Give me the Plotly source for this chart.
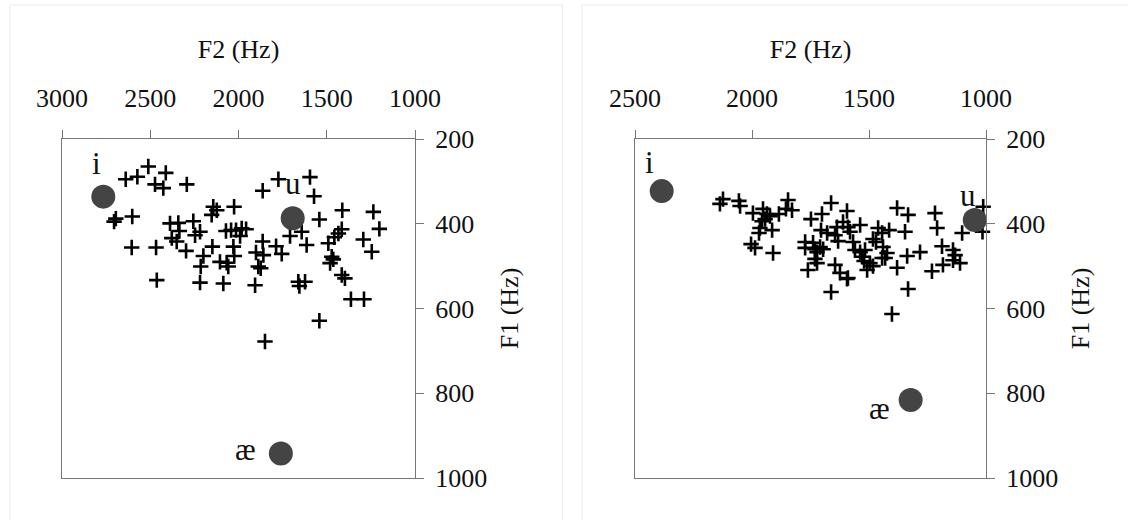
import plotly.graph_objects as go

# ---------------- data ----------------
left_f2_ticks = [3000, 2500, 2000, 1500, 1000]
right_f2_ticks = [2500, 2000, 1500, 1000]
f1_ticks = [200, 400, 600, 800, 1000]

vowel_labels = ["i", "u", "æ"]

left_vowel_f2 = [2766, 1693, 1760]
left_vowel_f1 = [336, 387, 942]

right_vowel_f2 = [2386, 1048, 1322]
right_vowel_f1 = [323, 391, 816]

left_plus_f2 = [2639, 2573, 2511, 2412, 2473, 2426, 2293,
                2705, 2695, 2602, 2605, 2467, 2463,
                2388, 2341, 2335, 2378, 2350, 2297,
                2256, 2246, 2218, 2143, 2123, 2152, 2025,
                2148, 2199, 2214, 2218, 2086, 2105, 2067, 2058,
                2029, 2024, 2071, 2042, 2014, 1982, 1957, 1991,
                1863, 1774, 1595, 1572,
                1863, 1901, 1859, 1888, 1874, 1906,
                1787, 1755, 1708, 1642, 1614, 1661, 1623, 1655,
                1542, 1412, 1415, 1434, 1457, 1491, 1472, 1463, 1481,
                1415, 1397, 1236, 1202, 1293, 1245, 1363, 1289, 1542, 1850]
left_plus_f1 = [295, 289, 265, 280, 307, 316, 307,
                395, 388, 383, 456, 456, 533,
                399, 398, 417, 434, 442, 464,
                394, 427, 419, 360, 368, 379, 360,
                454, 476, 501, 539, 541, 490, 492, 501,
                454, 476, 417, 415, 415, 411, 413, 429,
                322, 295, 290, 335,
                442, 468, 474, 501, 505, 545,
                453, 471, 429, 419, 450, 537, 537, 547,
                390, 368, 413, 423, 432, 446, 478, 484, 493,
                521, 529, 372, 412, 437, 466, 578, 578, 629, 678]

right_plus_f2 = [2137, 2124, 2056, 2051, 1996, 1953, 1936, 1923, 1957, 1944,
                 1966, 1970, 1914, 1885, 1855, 1846, 1829, 2004, 1987, 1910,
                 1748, 1701, 1662, 1705, 1679, 1645, 1632, 1637, 1611, 1594,
                 1773, 1773, 1739, 1731, 1722, 1731, 1722, 1709, 1696, 1761,
                 1645, 1624, 1594, 1662, 1590, 1581, 1538,
                 1380, 1333, 1218, 1209, 1346, 1414, 1461, 1444, 1483, 1470,
                 1568, 1560, 1538, 1517, 1530, 1521, 1440, 1423, 1431, 1444,
                 1496, 1483, 1508, 1590, 1337, 1282, 1380, 1188, 1231, 1184,
                 1141, 1132, 1141, 1111, 1102, 1012, 1015, 1333, 1402]
right_plus_f1 = [353, 342, 346, 358, 375, 365, 377, 382, 394, 389,
                 410, 422, 415, 377, 365, 344, 368, 448, 457, 469,
                 389, 377, 351, 415, 422, 427, 441, 408, 396, 370,
                 443, 457, 445, 460, 467, 483, 493, 455, 460, 509,
                 497, 516, 530, 561, 408, 419, 403,
                 363, 379, 375, 410, 419, 415, 410, 422, 436, 443,
                 443, 462, 467, 462, 478, 488, 455, 469, 481, 481,
                 493, 500, 509, 528, 476, 467, 504, 453, 512, 497,
                 462, 474, 486, 493, 422, 360, 419, 554, 613]

# ---------------- styling ----------------
W, H = 1128, 520
SERIF = "Liberation Serif, Times New Roman, serif"
AXIS_COLOR = "#777777"
DOT_COLOR = "#444444"

def px_x(p):
    return p / W

def px_y(p):
    return 1 - p / H

fig = go.Figure()

plus_marker = dict(symbol="cross-thin", size=11, color="black",
                   line=dict(width=2.6, color="black"))
dot_marker = dict(symbol="circle", size=24, color=DOT_COLOR, line=dict(width=0))

fig.add_trace(go.Scatter(x=left_plus_f2, y=left_plus_f1, mode="markers",
                         marker=plus_marker, xaxis="x", yaxis="y",
                         cliponaxis=False, hoverinfo="x+y"))
fig.add_trace(go.Scatter(x=left_vowel_f2, y=left_vowel_f1, mode="markers",
                         marker=dot_marker, xaxis="x", yaxis="y",
                         cliponaxis=False, text=vowel_labels))
fig.add_trace(go.Scatter(x=right_plus_f2, y=right_plus_f1, mode="markers",
                         marker=plus_marker, xaxis="x2", yaxis="y2",
                         cliponaxis=False, hoverinfo="x+y"))
fig.add_trace(go.Scatter(x=right_vowel_f2, y=right_vowel_f1, mode="markers",
                         marker=dot_marker, xaxis="x2", yaxis="y2",
                         cliponaxis=False, text=vowel_labels))

tickfont = dict(family=SERIF, size=26, color="#111111")
titlefont = dict(family=SERIF, size=26, color="#111111")

def xaxis_cfg(domain, rng, ticks, anchor):
    return dict(domain=domain, range=rng, tickvals=ticks, side="top",
                anchor=anchor, ticks="outside", ticklen=8, tickwidth=1,
                tickcolor=AXIS_COLOR, showline=True, linecolor=AXIS_COLOR,
                linewidth=1, mirror=True, showgrid=False, zeroline=False,
                tickfont=tickfont, ticklabelstandoff=13,
                title=dict(text="F2 (Hz)", font=titlefont, standoff=17),
                automargin=False)

def yaxis_cfg(domain, anchor):
    return dict(domain=domain, range=[1000, 200], tickvals=f1_ticks,
                side="right", anchor=anchor, ticks="outside", ticklen=8,
                tickwidth=1, tickcolor=AXIS_COLOR, showline=True,
                linecolor=AXIS_COLOR, linewidth=1, mirror=True,
                showgrid=False, zeroline=False, tickfont=tickfont,
                ticklabelstandoff=6,
                title=dict(text="F1 (Hz)", font=titlefont, standoff=13),
                automargin=False)

ydom = [px_y(478), px_y(139)]

fig.update_layout(
    width=W, height=H,
    margin=dict(l=0, r=0, t=0, b=0),
    paper_bgcolor="white", plot_bgcolor="white",
    showlegend=False,
    xaxis=xaxis_cfg([px_x(62), px_x(415)], [3000, 1000], left_f2_ticks, "y"),
    yaxis=yaxis_cfg(ydom, "x"),
    xaxis2=xaxis_cfg([px_x(635), px_x(986)], [2500, 1000], right_f2_ticks, "y2"),
    yaxis2=yaxis_cfg(ydom, "x2"),
)

# panel (card) borders
fig.add_shape(type="rect", xref="paper", yref="paper",
              x0=px_x(10), x1=px_x(562.5), y0=-0.1, y1=px_y(5),
              line=dict(color="#ebebeb", width=1), layer="below")
fig.add_shape(type="rect", xref="paper", yref="paper",
              x0=px_x(582), x1=1.1, y0=-0.1, y1=px_y(5),
              line=dict(color="#ebebeb", width=1), layer="below")

# vowel labels
left_shifts = [(-7, 33), (0, 35), (-35, 4)]
right_shifts = [(-12, 29), (-7, 24), (-31, -8)]
for k, lab in enumerate(vowel_labels):
    dx, dy = left_shifts[k]
    fig.add_annotation(x=left_vowel_f2[k], y=left_vowel_f1[k], xref="x", yref="y",
                       text=lab, showarrow=False, xshift=dx, yshift=dy,
                       font=dict(family=SERIF, size=31, color="#111111"))
    dx, dy = right_shifts[k]
    fig.add_annotation(x=right_vowel_f2[k], y=right_vowel_f1[k], xref="x2", yref="y2",
                       text=lab, showarrow=False, xshift=dx, yshift=dy,
                       font=dict(family=SERIF, size=31, color="#111111"))

fig.write_html("out.html",
               config={"displayModeBar": False},
               post_script="document.body.style.margin='0';document.body.style.overflow='hidden';")
